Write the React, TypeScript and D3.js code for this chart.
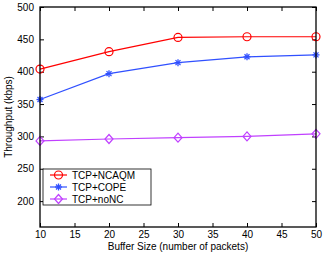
import { useEffect, useRef } from "react";
import * as d3 from "d3";

const bufferSizes = [10, 20, 30, 40, 50];
const ncaqm = [404, 431, 453, 454, 454];
const cope = [357, 397, 414, 423, 426];
const nonc = [293, 296, 298, 300, 304];
const xTicks = [10, 15, 20, 25, 30, 35, 40, 45, 50];
const yTicks = [200, 250, 300, 350, 400, 450, 500];

const series = [
  { name: "TCP+NCAQM", values: ncaqm, color: "#ff0000", marker: "circle" },
  { name: "TCP+COPE", values: cope, color: "#3050ff", marker: "star" },
  { name: "TCP+noNC", values: nonc, color: "#c040ff", marker: "diamond" },
];

const width = 327;
const height = 253;
const margin = { top: 7, right: 11, bottom: 26, left: 40 };
const font = "Liberation Sans, Arial, sans-serif";

function Marker({ type, x, y, color }: { type: string; x: number; y: number; color: string }) {
  if (type === "circle") {
    return <circle cx={x} cy={y} r={4} fill="none" stroke={color} strokeWidth={1.2} />;
  }
  if (type === "diamond") {
    return (
      <path
        d={`M${x},${y - 4.5}L${x + 4},${y}L${x},${y + 4.5}L${x - 4},${y}Z`}
        fill="none"
        stroke={color}
        strokeWidth={1.2}
      />
    );
  }
  // star: asterisk
  return (
    <g stroke={color} strokeWidth={1.3}>
      <line x1={x - 3.5} y1={y} x2={x + 3.5} y2={y} />
      <line x1={x} y1={y - 3.5} x2={x} y2={y + 3.5} />
      <line x1={x - 2.5} y1={y - 2.5} x2={x + 2.5} y2={y + 2.5} />
      <line x1={x - 2.5} y1={y + 2.5} x2={x + 2.5} y2={y - 2.5} />
    </g>
  );
}

export default function App() {
  const gx = useRef<SVGGElement>(null);
  const gy = useRef<SVGGElement>(null);
  const gxTop = useRef<SVGGElement>(null);
  const gyRight = useRef<SVGGElement>(null);

  const x = d3.scaleLinear().domain([10, 50]).range([margin.left, width - margin.right]);
  const y = d3.scaleLinear().domain([160, 500]).range([height - margin.bottom, margin.top]);

  useEffect(() => {
    const style = (g: d3.Selection<SVGGElement, unknown, null, undefined>) => {
      g.select(".domain").remove();
      g.selectAll("text").attr("font-family", font).attr("font-size", 10).attr("fill", "#000");
      g.selectAll("line").attr("stroke", "#000");
    };
    d3.select(gx.current!)
      .call(d3.axisBottom(x).tickValues(xTicks).tickSize(-4).tickPadding(4).tickFormat(d3.format("d")))
      .call(style);
    d3.select(gy.current!)
      .call(d3.axisLeft(y).tickValues(yTicks).tickSize(-4).tickPadding(6).tickFormat(d3.format("d")))
      .call(style);
    d3.select(gxTop.current!)
      .call(d3.axisTop(x).tickValues(xTicks).tickSize(-4).tickFormat(() => ""))
      .call(style);
    d3.select(gyRight.current!)
      .call(d3.axisRight(y).tickValues(yTicks).tickSize(-4).tickFormat(() => ""))
      .call(style);
  }, []);

  const line = d3
    .line<number>()
    .x((_, i) => x(bufferSizes[i]))
    .y((d) => y(d));

  const lx = 43;
  const ly = 169;

  return (
    <svg width={width} height={height} style={{ position: "absolute", left: 0, top: 0 }}>
      <rect x={0} y={0} width={width} height={height} fill="#fff" />
      <g ref={gx} transform={`translate(0,${height - margin.bottom})`} />
      <g ref={gy} transform={`translate(${margin.left},0)`} />
      <g ref={gxTop} transform={`translate(0,${margin.top})`} />
      <g ref={gyRight} transform={`translate(${width - margin.right},0)`} />
      {series.map((s) => (
        <g key={s.name}>
          <path d={line(s.values) ?? ""} fill="none" stroke={s.color} strokeWidth={1.2} />
          {s.values.map((v, i) => (
            <Marker key={i} type={s.marker} x={x(bufferSizes[i])} y={y(v)} color={s.color} />
          ))}
        </g>
      ))}
      <rect
        x={margin.left}
        y={margin.top}
        width={width - margin.left - margin.right}
        height={height - margin.top - margin.bottom}
        fill="none"
        stroke="#000"
        strokeWidth={1.3}
      />
      <g>
        <rect x={lx} y={ly} width={108} height={36} fill="#fff" stroke="#000" strokeWidth={0.8} />
        {series.map((s, i) => {
          const yy = ly + 6 + i * 12;
          return (
            <g key={s.name}>
              <line x1={lx + 7} x2={lx + 24} y1={yy} y2={yy} stroke={s.color} strokeWidth={1.2} />
              <Marker type={s.marker} x={lx + 15.5} y={yy} color={s.color} />
              <text x={lx + 29} y={yy + 3.6} fontFamily={font} fontSize={10} fill="#000">
                {s.name}
              </text>
            </g>
          );
        })}
      </g>
      <text
        x={(margin.left + width - margin.right) / 2}
        y={250}
        textAnchor="middle"
        fontFamily={font}
        fontSize={10}
        fill="#000"
      >
        Buffer Size (number of packets)
      </text>
      <text
        transform={`translate(11.5,${(margin.top + height - margin.bottom) / 2}) rotate(-90)`}
        textAnchor="middle"
        fontFamily={font}
        fontSize={10}
        fill="#000"
      >
        Throughput (kbps)
      </text>
    </svg>
  );
}
